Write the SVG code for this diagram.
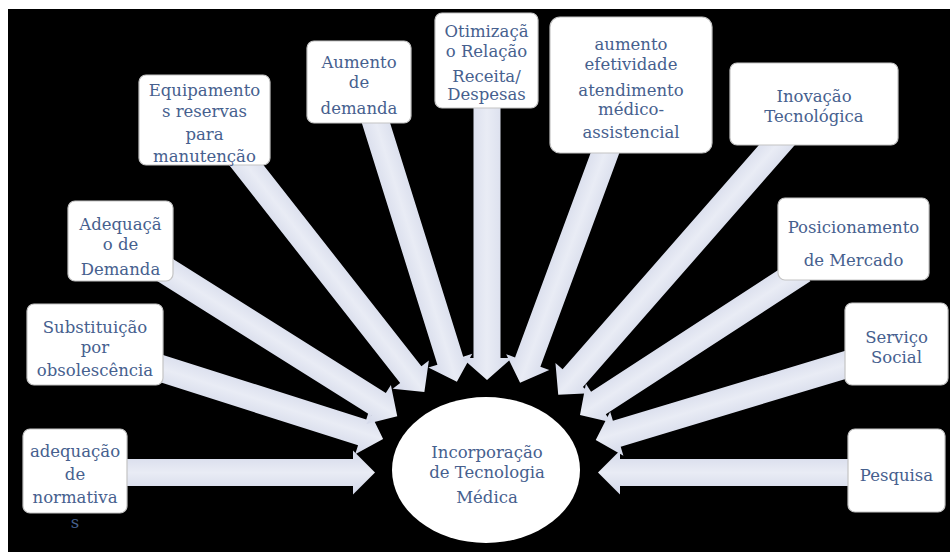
<svg xmlns="http://www.w3.org/2000/svg" width="950" height="552" viewBox="0 0 950 552">
<defs>
<linearGradient id="ag" x1="0" y1="0" x2="0" y2="1">
<stop offset="0" stop-color="#d3d8e9"/>
<stop offset="0.5" stop-color="#e9ecf5"/>
<stop offset="1" stop-color="#d3d8e9"/>
</linearGradient>
</defs>
<style>
.box{fill:#ffffff;stroke:#c4c4c4;stroke-width:1.2}
.arr{fill:url(#ag)}
.t{font-family:"DejaVu Serif","Liberation Serif",serif;font-size:16.5px;fill:#46608e;text-anchor:middle}
</style>
<rect x="0" y="0" width="950" height="552" fill="#ffffff"/>
<rect x="8" y="9" width="942" height="543" fill="#000000"/>
<g id="connectors">
<path class="arr" transform="translate(115,472.5)" d="M0,-13.5H238V-22L260,0L238,22V13.5H0Z"/>
<path class="arr" transform="translate(860,472.5) rotate(180)" d="M0,-13.5H240V-22L262,0L240,22V13.5H0Z"/>
<path class="arr" transform="translate(148.7,364.5) rotate(17.65)" d="M0,-13.5H224V-23L246,0L224,23V13.5H0Z"/>
<path class="arr" transform="translate(160.3,267) rotate(32.19)" d="M0,-13.5H258V-23L280,0L258,23V13.5H0Z"/>
<path class="arr" transform="translate(236,152) rotate(51.86)" d="M0,-13.5H283V-23L305,0L283,23V13.5H0Z"/>
<path class="arr" transform="translate(371.5,108.7) rotate(72.63)" d="M0,-13.5H264V-23L286,0L264,23V13.5H0Z"/>
<path class="arr" transform="translate(487,95) rotate(90)" d="M0,-13.5H263V-25L285,0L263,25V13.5H0Z"/>
<path class="arr" transform="translate(610.2,138.9) rotate(110.28)" d="M0,-13.5H238V-23L260,0L238,23V13.5H0Z"/>
<path class="arr" transform="translate(786.9,133.7) rotate(131.22)" d="M0,-13.5H325V-23L347,0L325,23V13.5H0Z"/>
<path class="arr" transform="translate(803,270) rotate(146.97)" d="M0,-13.5H244V-23L266,0L244,23V13.5H0Z"/>
<path class="arr" transform="translate(860,360.5) rotate(163.24)" d="M0,-13.5H254V-23L276,0L254,23V13.5H0Z"/>
</g>
<g id="n-equipamentos">
<rect class="box" x="139" y="75" width="131" height="90" rx="7"/>
<text class="t"><tspan x="204.5" y="96">Equipamento</tspan><tspan x="204.5" y="117">s reservas</tspan><tspan x="204.5" y="140">para</tspan><tspan x="204.5" y="162">manutenção</tspan></text>
</g>
<g id="n-aumento-demanda">
<rect class="box" x="307" y="41" width="104" height="82" rx="7"/>
<text class="t"><tspan x="359" y="68">Aumento</tspan><tspan x="359" y="88">de</tspan><tspan x="359" y="114">demanda</tspan></text>
</g>
<g id="n-otimizacao">
<rect class="box" x="435" y="13" width="103" height="95" rx="7"/>
<text class="t"><tspan x="486.5" y="37">Otimizaçã</tspan><tspan x="486.5" y="57">o Relação</tspan><tspan x="486.5" y="82">Receita/</tspan><tspan x="486.5" y="100">Despesas</tspan></text>
</g>
<g id="n-efetividade">
<rect class="box" x="550" y="17" width="162" height="136" rx="10"/>
<text class="t"><tspan x="631" y="50">aumento</tspan><tspan x="631" y="70">efetividade</tspan><tspan x="631" y="96">atendimento</tspan><tspan x="631" y="115">médico-</tspan><tspan x="631" y="138">assistencial</tspan></text>
</g>
<g id="n-inovacao">
<rect class="box" x="730" y="63" width="168" height="82" rx="7"/>
<text class="t"><tspan x="814" y="102">Inovação</tspan><tspan x="814" y="122">Tecnológica</tspan></text>
</g>
<g id="n-adequacao-demanda">
<rect class="box" x="68" y="201" width="105" height="80" rx="7"/>
<text class="t"><tspan x="120.5" y="230">Adequaçã</tspan><tspan x="120.5" y="250">o de</tspan><tspan x="120.5" y="275">Demanda</tspan></text>
</g>
<g id="n-substituicao">
<rect class="box" x="27" y="304" width="136" height="81" rx="7"/>
<text class="t"><tspan x="95" y="333">Substituição</tspan><tspan x="95" y="353">por</tspan><tspan x="95" y="376">obsolescência</tspan></text>
</g>
<g id="n-posicionamento">
<rect class="box" x="778" y="198" width="151" height="82" rx="7"/>
<text class="t"><tspan x="853.5" y="233">Posicionamento</tspan><tspan x="853.5" y="266">de Mercado</tspan></text>
</g>
<g id="n-servico-social">
<rect class="box" x="845" y="303" width="103" height="82" rx="7"/>
<text class="t"><tspan x="896.5" y="343">Serviço</tspan><tspan x="896.5" y="363">Social</tspan></text>
</g>
<g id="n-normativas">
<rect class="box" x="23" y="429" width="104" height="84" rx="7"/>
<text class="t"><tspan x="75" y="457">adequação</tspan><tspan x="75" y="480">de</tspan><tspan x="75" y="503">normativa</tspan><tspan x="75" y="528">s</tspan></text>
</g>
<g id="n-pesquisa">
<rect class="box" x="848" y="429" width="97" height="83" rx="7"/>
<text class="t"><tspan x="896.5" y="481">Pesquisa</tspan></text>
</g>
<g id="n-incorporacao">
<ellipse cx="486" cy="470" rx="94" ry="73" fill="#ffffff"/>
<text class="t"><tspan x="487" y="458">Incorporação</tspan><tspan x="487" y="478">de Tecnologia</tspan><tspan x="487" y="503">Médica</tspan></text>
</g>
</svg>
